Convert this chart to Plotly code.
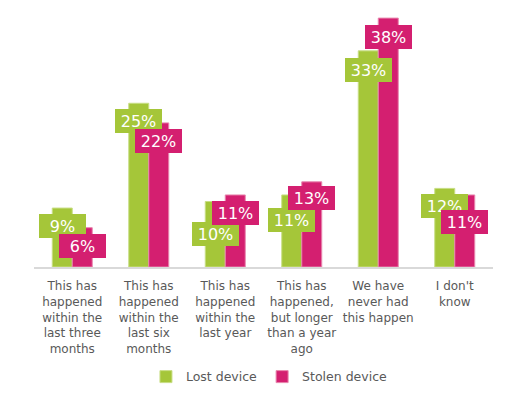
import plotly.graph_objects as go

categories = [
    "This has<br>happened<br>within the<br>last three<br>months",
    "This has<br>happened<br>within the<br>last six<br>months",
    "This has<br>happened<br>within the<br>last year",
    "This has<br>happened,<br>but longer<br>than a year<br>ago",
    "We have<br>never had<br>this happen",
    "I don't<br>know",
]
lost = [9, 25, 10, 11, 33, 12]
stolen = [6, 22, 11, 13, 38, 11]
series_names = ["Lost device", "Stolen device"]

# label placement style (pixels below bar top), as in the original chart
lost_label_drop = [18, 18, 32, 25, 19, 18]
stolen_label_drop = [18, 18, 18, 16, 19, 27]

GREEN = "#A5C639"
PINK = "#D41F70"
FONT = "DejaVu Sans"

fig = go.Figure()
fig.add_trace(go.Bar(x=categories, y=lost, name=series_names[0],
                     marker=dict(color=GREEN, line=dict(color="#C8DE85", width=1))))
fig.add_trace(go.Bar(x=categories, y=stolen, name=series_names[1],
                     marker=dict(color=PINK, line=dict(color="#E886AE", width=1))))

annotations = []
for vals, drops, color, shift in [(lost, lost_label_drop, GREEN, -10),
                                  (stolen, stolen_label_drop, PINK, 10)]:
    for c, v, d in zip(categories, vals, drops):
        annotations.append(dict(
            x=c, y=v, xref="x", yref="y", text=f"{v}%", showarrow=False,
            xshift=shift, yshift=-d, yanchor="middle", xanchor="center",
            font=dict(family=FONT, size=16, color="white"),
            bgcolor=color, borderpad=3, borderwidth=0, width=41, height=18,
        ))

fig.update_layout(
    width=508, height=396,
    margin=dict(l=34, r=15, t=5, b=129, autoexpand=False),
    paper_bgcolor="white", plot_bgcolor="white",
    barmode="group", bargap=0.477, bargroupgap=0,
    showlegend=True,
    legend=dict(orientation="h", x=0.513, xanchor="center",
                yref="container", y=0.048, yanchor="middle",
                font=dict(family=FONT, size=12.5, color="#595959"),
                itemwidth=30, traceorder="normal"),
    annotations=annotations,
    font=dict(family=FONT),
)
fig.update_xaxes(showline=True, linecolor="#D9D9D9", linewidth=2, ticks="",
                 automargin=False, ticklabelstandoff=7,
                 tickfont=dict(family=FONT, size=12, color="#595959"), tickangle=0)
fig.update_yaxes(range=[0, 40], visible=False, showgrid=False, zeroline=False,
                 automargin=False)

fig.write_html("out.html", config={"displayModeBar": False},
               post_script="document.body.style.margin='0';")
